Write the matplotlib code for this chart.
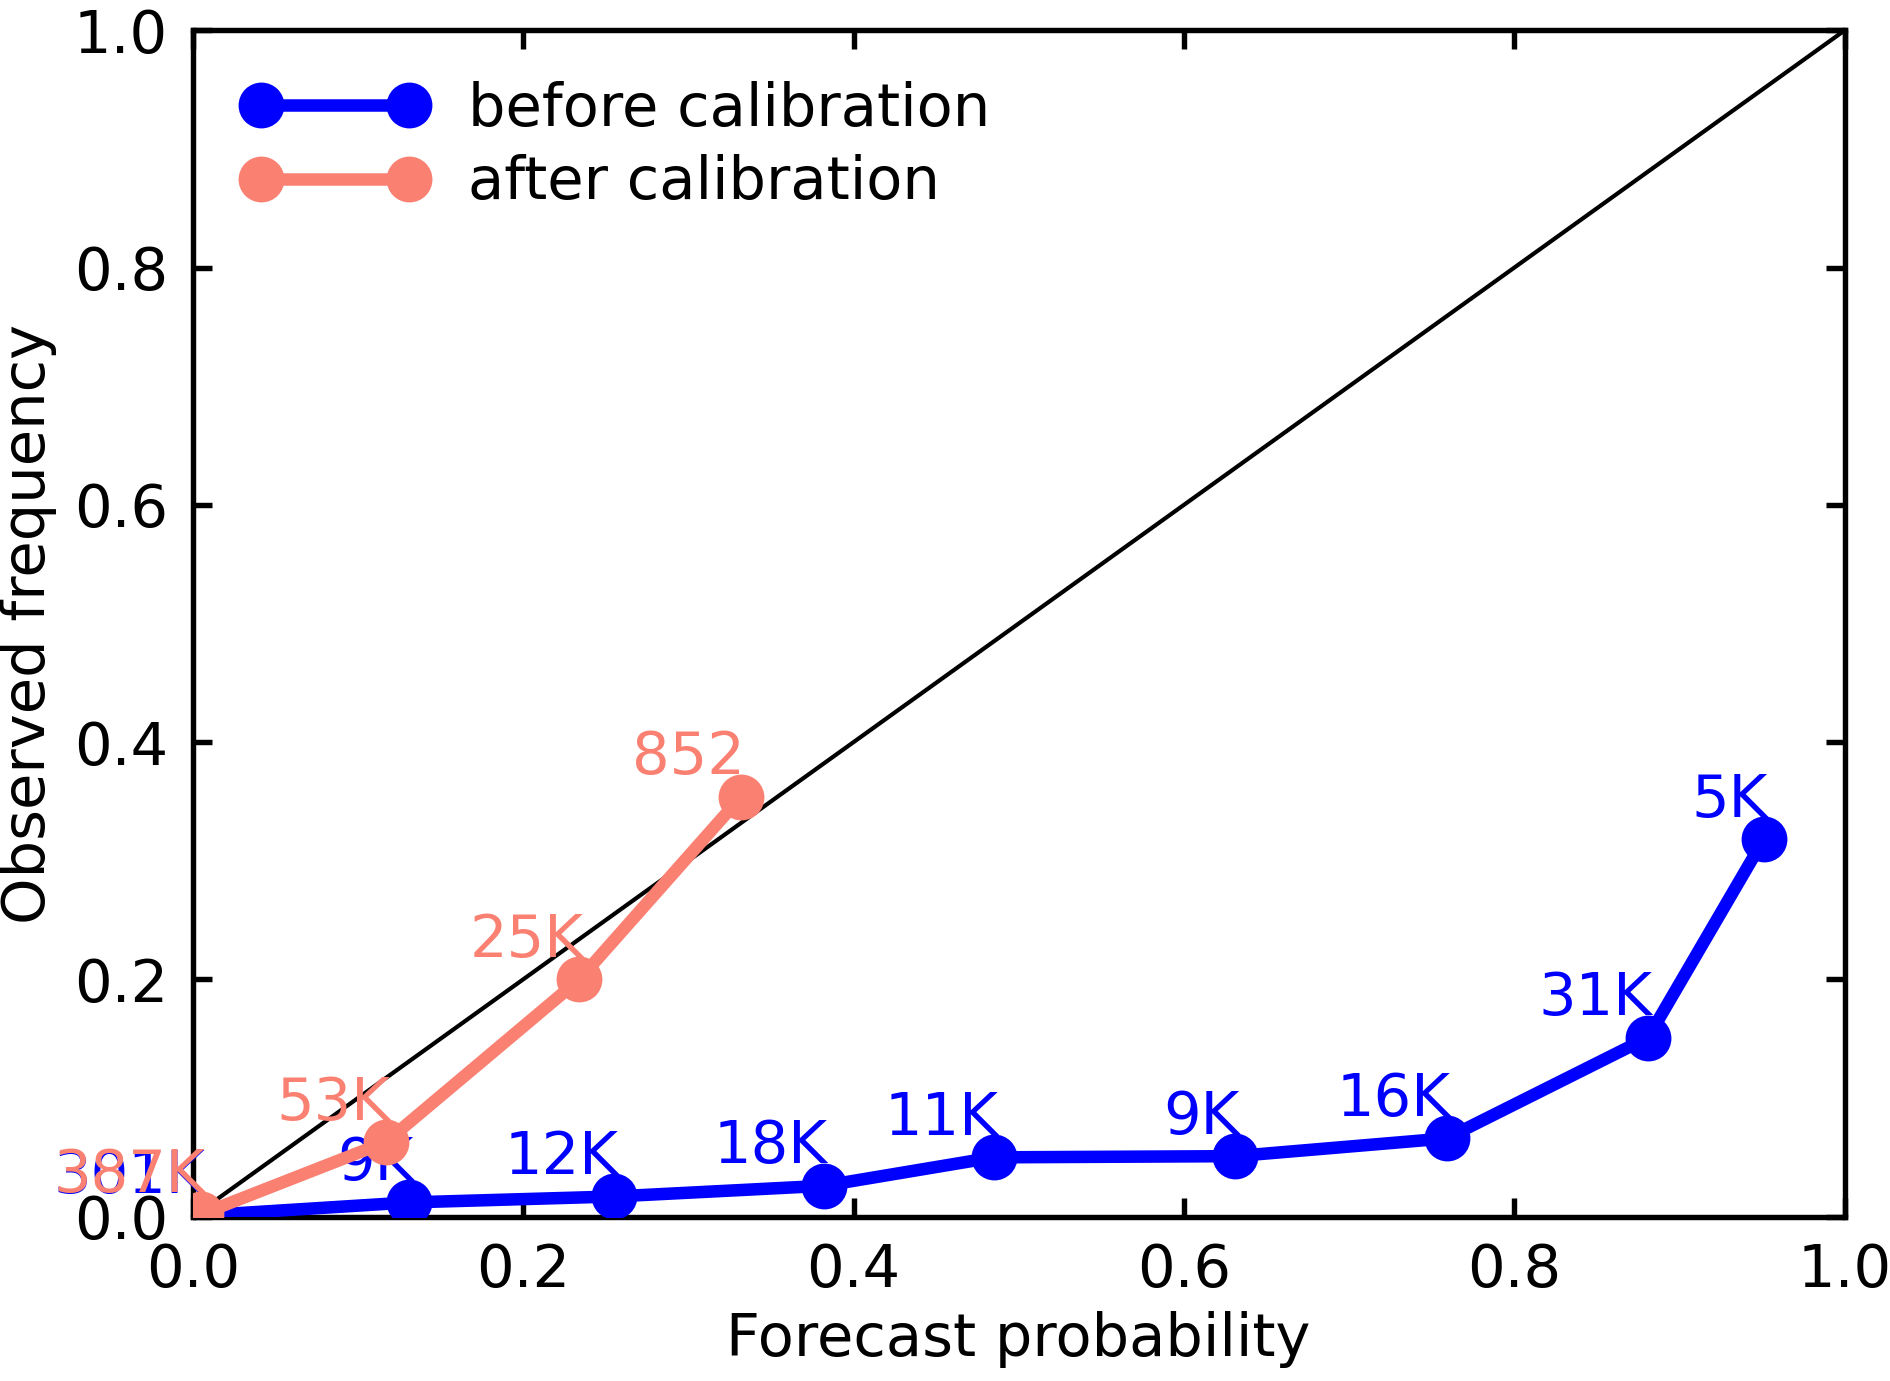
import matplotlib
matplotlib.use("Agg")
import matplotlib.pyplot as plt

# before calibration
before_x = [0.005, 0.131, 0.255, 0.382, 0.485, 0.631, 0.759, 0.881, 0.951]
before_y = [0.001, 0.012, 0.017, 0.026, 0.050, 0.051, 0.066, 0.151, 0.318]
before_labels = ["301K", "9K", "12K", "18K", "11K", "9K", "16K", "31K", "5K"]

# after calibration
after_x = [0.005, 0.117, 0.234, 0.332]
after_y = [0.002, 0.063, 0.200, 0.354]
after_labels = ["387K", "53K", "25K", "852"]

ticks = [0.0, 0.2, 0.4, 0.6, 0.8, 1.0]
tick_labels = ["0.0", "0.2", "0.4", "0.6", "0.8", "1.0"]

plt.rcParams['font.family'] = ['DejaVu Sans']
fs = 14.2

fig = plt.figure(figsize=(6.3, 1381 / 300), dpi=300)
ax = fig.add_axes([0.102, 0.119, 0.874, 0.859])

ax.plot([0, 1], [0, 1], color="black", lw=1.0, zorder=2)
ax.plot(before_x, before_y, "-o", color="blue", lw=3, ms=10, label="before calibration", zorder=3)
for x, y, s in zip(before_x, before_y, before_labels):
    ax.annotate(s, (x, y), xytext=(1, 2.5), textcoords="offset points",
                color="blue", ha="right", va="bottom", fontsize=fs, zorder=4)
ax.plot(after_x, after_y, "-o", color="salmon", lw=3, ms=10, label="after calibration", zorder=5)
for x, y, s in zip(after_x, after_y, after_labels):
    ax.annotate(s, (x, y), xytext=(1, 2.5), textcoords="offset points",
                color="salmon", ha="right", va="bottom", fontsize=fs, zorder=6)

ax.set_xlim(0, 1)
ax.set_ylim(0, 1)
ax.set_xticks(ticks)
ax.set_xticklabels(tick_labels)
ax.set_yticks(ticks)
ax.set_yticklabels(tick_labels)
ax.tick_params(direction="in", top=True, right=True, length=4.5, width=1.3, labelsize=fs, pad=6)
for sp in ax.spines.values():
    sp.set_linewidth(1.3)
ax.set_xlabel("Forecast probability", fontsize=fs, labelpad=3)
ax.set_ylabel("Observed frequency", fontsize=fs, labelpad=4)

ax.legend(loc="upper left", frameon=False, fontsize=fs, numpoints=2,
          handlelength=3.1, labelspacing=0.28, borderaxespad=0.45,
          handletextpad=0.7)

fig.savefig("out.png", dpi=300)
